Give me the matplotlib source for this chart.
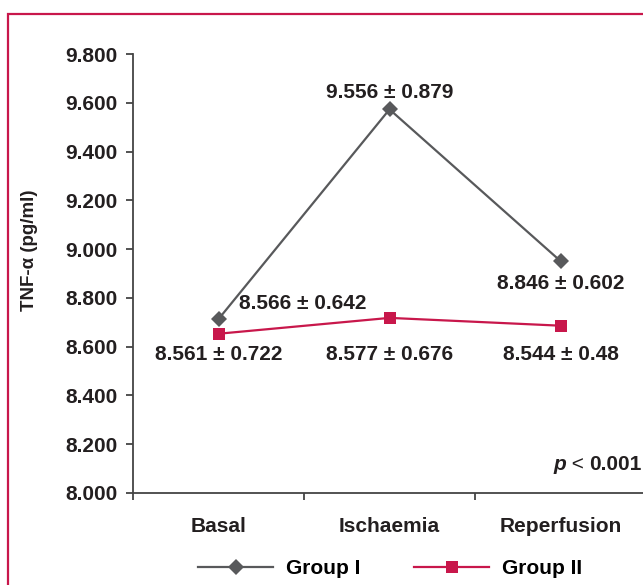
import matplotlib
matplotlib.use("Agg")
import matplotlib.pyplot as plt
from matplotlib.lines import Line2D
from matplotlib.patches import Rectangle

plt.rcParams["font.family"] = ["Liberation Sans", "DejaVu Sans"]
plt.rcParams["font.weight"] = "bold"

categories = ["Basal", "Ischaemia", "Reperfusion"]
group1_values = [8.713, 9.573, 8.951]
group2_values = [8.653, 8.718, 8.686]
group1_labels = ["8.566 \u00b1 0.642", "9.556 \u00b1 0.879", "8.846 \u00b1 0.602"]
group2_labels = ["8.561 \u00b1 0.722", "8.577 \u00b1 0.676", "8.544 \u00b1 0.48"]
ytick_values = [8.0, 8.2, 8.4, 8.6, 8.8, 9.0, 9.2, 9.4, 9.6, 9.8]

GRAY = "#58595B"
RED = "#C8174B"
AXIS = "#444444"
TEXT = "#231F20"
FS = 15


def main():
    fig = plt.figure(figsize=(6.43, 5.85), dpi=100)
    ax = fig.add_axes([133 / 643, 1 - 493 / 585, 513 / 643, 439 / 585])

    x = list(range(len(categories)))
    ax.plot(x, group1_values, color=GRAY, lw=1.6, marker="D", ms=7.8,
            mec=GRAY, mew=0, zorder=3)
    ax.plot(x, group2_values, color=RED, lw=1.6, marker="s", ms=8.6,
            mec=RED, mew=0, zorder=3)

    # labels for group I, offsets in points from each marker
    g1_offsets = [(61, 11.5), (0, 12), (0, -16)]
    for xi, v, lab, off in zip(x, group1_values, group1_labels, g1_offsets):
        ax.annotate(lab, xy=(xi, v), xytext=off, textcoords="offset points",
                    ha="center", va="center", fontsize=FS, color=TEXT,
                    fontweight="bold")
    # labels for group II, all on one row
    for xi, lab in zip(x, group2_labels):
        ax.text(xi, 8.568, lab, ha="center", va="center", fontsize=FS,
                color=TEXT, fontweight="bold")

    ax.set_xlim(-0.5, 2.5)
    ax.set_ylim(8.0, 9.8)
    ax.set_yticks(ytick_values)
    ax.set_yticklabels([f"{v:.3f}" for v in ytick_values])
    ax.set_xticks(x)
    ax.set_xticklabels(categories)
    ax.set_xticks([-0.5, 0.5, 1.5, 2.5], minor=True)
    ax.tick_params(axis="x", which="major", length=0, pad=17, labelsize=FS,
                   labelcolor=TEXT)
    ax.tick_params(axis="x", which="minor", length=5, width=1.3,
                   direction="out", color=AXIS)
    ax.tick_params(axis="y", length=4.8, width=1.3, direction="out",
                   color=AXIS, pad=6.5, labelsize=FS, labelcolor=TEXT)

    for side in ["top", "right"]:
        ax.spines[side].set_visible(False)
    for side in ["left", "bottom"]:
        ax.spines[side].set_color(AXIS)
        ax.spines[side].set_linewidth(1.3)

    ax.set_ylabel("TNF-\u03b1 (pg/ml)", fontsize=13.5, color=TEXT,
                  fontweight="bold")
    ax.yaxis.set_label_coords(-0.185, 0.553)

    # p < 0.001, built right to left
    t1 = fig.text(642 / 643, 1 - 464.6 / 585, "0.001", ha="right",
                  va="center", fontsize=FS, color=TEXT, fontweight="bold")
    t2 = ax.annotate(" < ", xy=(0, 0.5), xycoords=t1, ha="right",
                     va="center", fontsize=FS, color=TEXT,
                     fontweight="normal")
    ax.annotate("p", xy=(0, 0.5), xycoords=t2, ha="right", va="center",
                fontsize=FS, color=TEXT, fontweight="bold", style="italic")

    handles = [
        Line2D([], [], color=GRAY, lw=1.6, marker="D", ms=7.8, mew=0),
        Line2D([], [], color=RED, lw=1.6, marker="s", ms=8.6, mew=0),
    ]
    fig.legend(handles, ["Group I", "Group II"], loc="center",
               bbox_to_anchor=(390 / 643, 1 - 569 / 585), ncol=2,
               frameon=False, fontsize=FS, handlelength=3.6,
               handletextpad=0.6, columnspacing=2.6,
               prop={"weight": "bold", "size": FS})

    # crimson frame, open to the right and bottom
    fig.patches.append(Rectangle((8 / 643, -0.5), 2, 0.976 + 0.5,
                                 transform=fig.transFigure, fill=False,
                                 edgecolor=RED, lw=1.6, clip_on=False))

    fig.savefig("out.png", dpi=100)


if __name__ == "__main__":
    main()
